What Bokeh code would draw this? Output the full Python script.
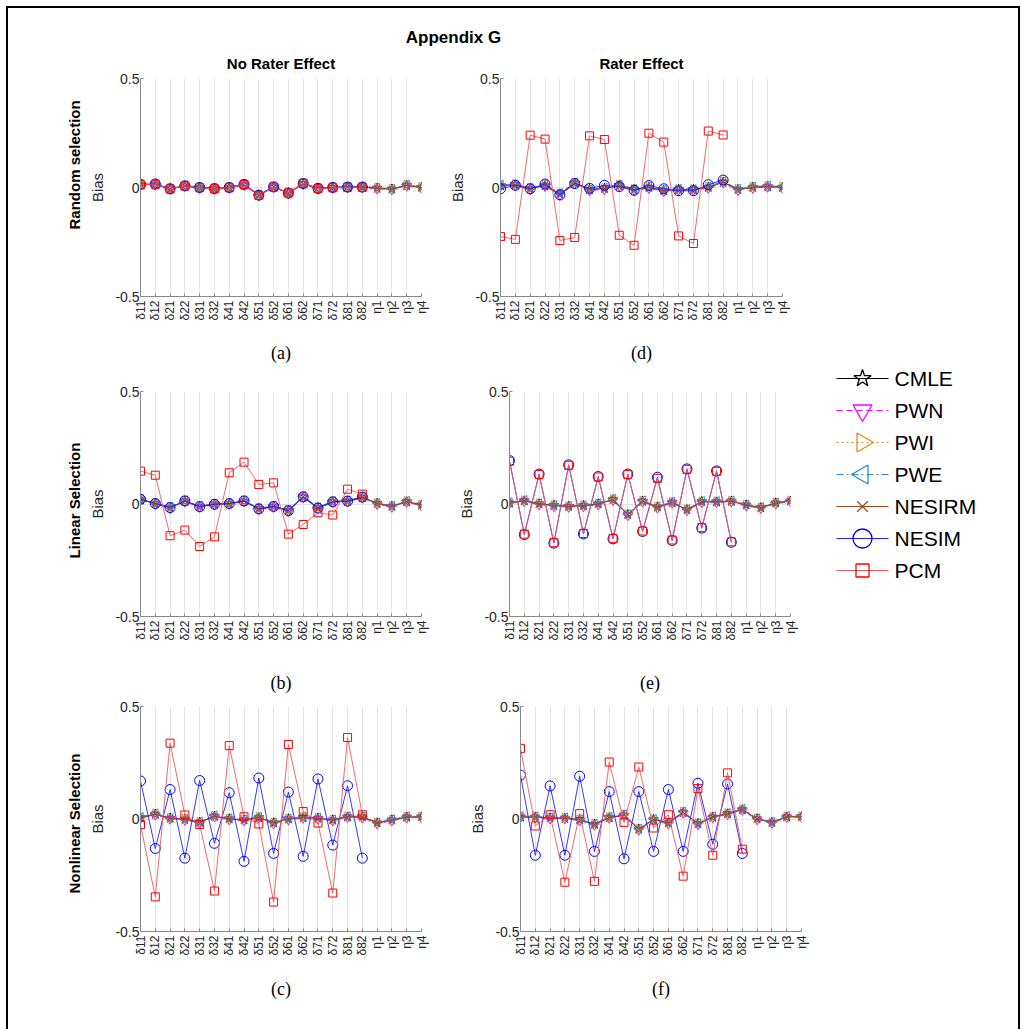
import math
import numpy as np
from bokeh.plotting import figure
from bokeh.layouts import column, row
from bokeh.models import Range1d, FixedTicker, Title, Label, ColumnDataSource
from bokeh.core.properties import value
from bokeh.embed import file_html
from bokeh.resources import INLINE

nan = float("nan")

categories = ["δ11", "δ12", "δ21", "δ22", "δ31", "δ32", "δ41", "δ42", "δ51", "δ52",
              "δ61", "δ62", "δ71", "δ72", "δ81", "δ82", "η1", "η2", "η3", "η4"]
series_names = ["CMLE", "PWN", "PWI", "PWE", "NESIRM", "NESIM", "PCM"]
y_ticks = [-0.5, 0, 0.5]

# ---- (a) Random selection, no rater effect
a_cmle = [0.012, 0.014, -0.005, 0.006, 0.001, -0.004, -0.001, 0.012, -0.034, 0.002, -0.024, 0.017, -0.003, 0.001, 0.001, 0.003, -0.003, -0.007, 0.009, 0.001]
a_pwn = [0.010, 0.012, -0.008, 0.005, -0.003, -0.008, -0.003, 0.010, -0.038, 0.000, -0.028, 0.015, -0.007, -0.003, -0.001, -0.001, -0.006, -0.010, 0.008, -0.002]
a_pwi = [0.015, 0.017, -0.004, 0.009, 0.002, -0.003, 0.002, 0.016, -0.032, 0.005, -0.022, 0.021, -0.002, 0.002, 0.004, 0.004, -0.002, -0.005, 0.012, 0.003]
a_pwe = [0.016, 0.016, -0.005, 0.010, 0.001, -0.004, 0.001, 0.015, -0.033, 0.004, -0.023, 0.020, -0.003, 0.001, 0.003, 0.005, -0.001, -0.006, 0.013, 0.002]
a_nesirm = [0.013, 0.015, -0.006, 0.007, 0.000, -0.005, 0.000, 0.013, -0.035, 0.003, -0.025, 0.018, -0.004, 0.000, 0.002, 0.002, -0.004, -0.008, 0.010, 0.000]
a_nesim = [0.014, 0.016, -0.006, 0.008, 0.000, -0.005, 0.000, 0.014, -0.035, 0.003, -0.026, 0.018, -0.004, 0.000, 0.002, 0.002, nan, nan, nan, nan]
a_pcm = [0.013, 0.015, -0.007, 0.007, -0.001, -0.006, -0.001, 0.013, -0.036, 0.002, -0.025, 0.019, -0.005, -0.001, 0.001, 0.001, nan, nan, nan, nan]

# ---- (b) Linear selection, no rater effect
b_cmle = [0.019, 0.003, -0.015, 0.012, -0.010, 0.000, 0.001, 0.012, -0.020, -0.010, -0.028, 0.031, -0.016, 0.009, 0.012, 0.029, 0.003, -0.010, 0.010, -0.004]
b_pwn = [0.017, -0.001, -0.019, 0.010, -0.014, -0.004, -0.001, 0.010, -0.024, -0.014, -0.032, 0.029, -0.020, 0.007, 0.010, 0.027, -0.001, -0.014, 0.008, -0.008]
b_pwi = [0.022, 0.004, -0.013, 0.015, -0.009, 0.002, 0.004, 0.015, -0.018, -0.009, -0.026, 0.034, -0.014, 0.012, 0.015, 0.032, 0.004, -0.009, 0.013, -0.003]
b_pwe = [0.023, 0.003, -0.014, 0.016, -0.008, 0.001, 0.003, 0.016, -0.019, -0.008, -0.027, 0.035, -0.015, 0.013, 0.016, 0.033, 0.005, -0.008, 0.014, -0.002]
b_nesirm = [0.020, 0.002, -0.016, 0.013, -0.011, -0.001, 0.002, 0.013, -0.021, -0.011, -0.029, 0.032, -0.017, 0.010, 0.013, 0.030, 0.002, -0.011, 0.011, -0.005]
b_nesim = [0.021, 0.002, -0.016, 0.014, -0.012, -0.001, 0.002, 0.014, -0.022, -0.011, -0.030, 0.032, -0.018, 0.010, 0.013, 0.031, nan, nan, nan, nan]
b_pcm = [0.146, 0.128, -0.141, -0.116, -0.189, -0.146, 0.139, 0.186, 0.087, 0.094, -0.134, -0.091, -0.039, -0.049, 0.066, 0.044, nan, nan, nan, nan]

# ---- (c) Nonlinear selection, no rater effect
c_cmle = [0.005, 0.021, 0.004, -0.001, -0.014, 0.012, 0.001, -0.004, 0.006, -0.017, 0.001, 0.006, 0.004, -0.004, 0.009, 0.010, -0.017, -0.004, 0.008, 0.010]
c_pwn = [0.003, 0.019, 0.000, -0.005, -0.018, 0.010, -0.003, -0.008, 0.004, -0.021, -0.003, 0.004, 0.000, -0.008, 0.007, 0.006, -0.021, -0.008, 0.006, 0.006]
c_pwi = [0.008, 0.024, 0.005, 0.001, -0.013, 0.015, 0.002, -0.003, 0.009, -0.016, 0.002, 0.009, 0.005, -0.003, 0.012, 0.011, -0.016, -0.003, 0.011, 0.011]
c_pwe = [0.009, 0.025, 0.004, 0.000, -0.012, 0.016, 0.003, -0.002, 0.010, -0.015, 0.003, 0.010, 0.006, -0.002, 0.013, 0.012, -0.015, -0.002, 0.012, 0.012]
c_nesirm = [0.006, 0.022, 0.003, -0.002, -0.015, 0.013, 0.000, -0.005, 0.007, -0.018, 0.000, 0.007, 0.003, -0.005, 0.010, 0.009, -0.018, -0.005, 0.009, 0.009]
c_nesim = [0.169, -0.131, 0.131, -0.174, 0.171, -0.108, 0.117, -0.188, 0.182, -0.153, 0.120, -0.166, 0.178, -0.116, 0.148, -0.174, nan, nan, nan, nan]
c_pcm = [-0.025, -0.346, 0.337, 0.018, -0.024, -0.320, 0.326, 0.010, -0.022, -0.369, 0.331, 0.033, -0.018, -0.329, 0.362, 0.019, nan, nan, nan, nan]

# ---- (d) Random selection, rater effect
d_cmle = [0.009, 0.013, -0.004, 0.009, -0.029, 0.019, -0.009, -0.004, 0.009, -0.009, 0.001, -0.014, -0.009, -0.009, 0.001, 0.024, -0.009, 0.001, 0.004, 0.001]
d_pwn = [0.006, 0.009, -0.009, 0.006, -0.034, 0.017, -0.014, -0.009, 0.007, -0.013, -0.004, -0.019, -0.013, -0.013, -0.003, 0.022, -0.013, -0.003, 0.002, -0.003]
d_pwi = [0.013, 0.015, -0.002, 0.013, -0.027, 0.023, -0.007, -0.002, 0.013, -0.007, 0.003, -0.012, -0.007, -0.007, 0.003, 0.028, -0.007, 0.003, 0.008, 0.003]
d_pwe = [0.014, 0.014, -0.003, 0.014, -0.026, 0.024, -0.008, -0.001, 0.014, -0.006, 0.004, -0.011, -0.006, -0.008, 0.004, 0.029, -0.006, 0.004, 0.009, 0.004]
d_nesirm = [0.010, 0.012, -0.005, 0.010, -0.030, 0.020, -0.010, -0.005, 0.010, -0.010, 0.000, -0.015, -0.010, -0.010, 0.000, 0.025, -0.010, 0.000, 0.005, 0.000]
d_nesim = [-0.006, 0.010, -0.006, 0.016, -0.034, 0.018, -0.004, 0.010, 0.004, -0.013, 0.009, -0.006, -0.015, -0.015, 0.013, 0.034, nan, nan, nan, nan]
d_pcm = [-0.225, -0.238, 0.240, 0.222, -0.243, -0.229, 0.237, 0.220, -0.219, -0.265, 0.249, 0.208, -0.222, -0.257, 0.259, 0.241, nan, nan, nan, nan]

# ---- (e) Linear selection, rater effect
e_cmle = [0.004, 0.014, 0.001, -0.006, -0.010, -0.007, 0.001, 0.019, -0.047, 0.012, -0.013, 0.006, -0.025, 0.011, 0.009, 0.012, -0.004, -0.016, 0.005, 0.013]
e_pwn = [0.002, 0.012, -0.003, -0.010, -0.014, -0.011, -0.003, 0.017, -0.051, 0.010, -0.017, 0.004, -0.029, 0.007, 0.007, 0.010, -0.008, -0.020, 0.001, 0.011]
e_pwi = [0.007, 0.017, 0.002, -0.005, -0.009, -0.006, 0.002, 0.022, -0.046, 0.015, -0.012, 0.009, -0.024, 0.012, 0.012, 0.015, -0.003, -0.015, 0.006, 0.016]
e_pwe = [0.008, 0.018, 0.003, -0.004, -0.008, -0.005, 0.003, 0.023, -0.045, 0.016, -0.011, 0.010, -0.023, 0.013, 0.013, 0.016, -0.002, -0.014, 0.007, 0.017]
e_nesirm = [0.005, 0.015, 0.000, -0.007, -0.011, -0.008, 0.000, 0.020, -0.048, 0.013, -0.014, 0.007, -0.026, 0.010, 0.010, 0.013, -0.005, -0.017, 0.004, 0.014]
e_nesim = [0.193, -0.136, 0.133, -0.174, 0.174, -0.133, 0.122, -0.155, 0.133, -0.122, 0.119, -0.162, 0.156, -0.107, 0.147, -0.170, nan, nan, nan, nan]
e_pcm = [0.190, -0.134, 0.131, -0.172, 0.172, -0.131, 0.120, -0.153, 0.131, -0.120, 0.114, -0.160, 0.154, -0.105, 0.145, -0.168, nan, nan, nan, nan]

# ---- (f) Nonlinear selection, rater effect
f_cmle = [0.009, 0.008, 0.005, 0.003, -0.003, -0.023, 0.006, 0.017, -0.045, -0.002, -0.017, 0.029, -0.020, 0.008, 0.023, 0.041, 0.001, -0.015, 0.009, 0.011]
f_pwn = [0.007, 0.006, 0.001, 0.001, -0.007, -0.027, 0.004, 0.015, -0.049, -0.006, -0.021, 0.027, -0.024, 0.006, 0.021, 0.039, -0.003, -0.019, 0.007, 0.007]
f_pwi = [0.012, 0.011, 0.006, 0.006, -0.002, -0.022, 0.009, 0.020, -0.044, -0.001, -0.016, 0.032, -0.019, 0.011, 0.026, 0.044, 0.002, -0.014, 0.012, 0.012]
f_pwe = [0.013, 0.012, 0.007, 0.007, -0.001, -0.021, 0.010, 0.021, -0.043, 0.000, -0.015, 0.033, -0.018, 0.012, 0.027, 0.045, 0.003, -0.013, 0.013, 0.013]
f_nesirm = [0.010, 0.009, 0.004, 0.004, -0.004, -0.024, 0.007, 0.018, -0.046, -0.003, -0.018, 0.030, -0.021, 0.009, 0.024, 0.042, 0.000, -0.016, 0.010, 0.010]
f_nesim = [0.195, -0.161, 0.147, -0.161, 0.190, -0.144, 0.122, -0.177, 0.122, -0.144, 0.131, -0.144, 0.159, -0.112, 0.156, -0.153, nan, nan, nan, nan]
f_pcm = [0.314, -0.031, 0.019, -0.281, 0.024, -0.277, 0.253, -0.015, 0.231, -0.040, 0.019, -0.254, 0.135, -0.161, 0.205, -0.134, nan, nan, nan, nan]

# ---- styles
line_colors = ["#000000", "#ff00ff", "#e08a1e", "#2d8ccb", "#a0481e", "#2020ff", "#f05a5a"]
mark_colors = ["#000000", "#ff00ff", "#e08a1e", "#2d8ccb", "#a0481e", "#0000ff", "#ff0000"]
dashes = ["solid", "6 4", "2 3", "7 3 2 3", "solid", "solid", "solid"]
markers = ["star", "inverted_triangle", "triangle", "triangle", "x", "circle", "square"]
angles = [0, 0, -math.pi / 2, math.pi / 2, 0, 0, 0]
sizes_panel = [10, 9, 9, 9, 8, 10, 8]
sizes_legend = [18, 19, 19, 19, 15, 19, 13]

SANS = "Liberation Sans"
SERIF = "Liberation Serif"
x_pos = list(range(len(categories)))


def make_panel(vals, width, height, bl, br, bt, bb, title=None, row_label=None,
               row_offset=0, caption="", cap_standoff=10):
    kw = dict(width=width, height=height, x_range=Range1d(0, len(categories) - 1),
              y_range=Range1d(-0.5, 0.5), output_backend="svg", toolbar_location=None,
              min_border_left=bl, min_border_right=br, min_border_top=bt,
              min_border_bottom=bb)
    if title:
        kw["title"] = title
    p = figure(**kw)
    p.outline_line_color = None
    if title:
        p.title.align = "center"
        p.title.text_font = SANS
        p.title.text_font_size = "15px"
        p.title.text_font_style = "bold"
        p.title.text_color = "#000000"
        p.title.standoff = 13
    # axes
    p.xaxis.ticker = FixedTicker(ticks=x_pos)
    p.xaxis.major_label_overrides = {i: c for i, c in zip(x_pos, categories)}
    p.xaxis.major_label_orientation = math.pi / 2
    p.xaxis.major_label_text_font_size = "12px"
    p.yaxis.ticker = FixedTicker(ticks=y_ticks)
    p.yaxis.major_label_overrides = {-0.5: "-0.5", 0: "0", 0.5: "0.5"}
    p.yaxis.major_label_text_font_size = "14px"
    for ax in (p.xaxis, p.yaxis):
        ax.major_label_text_font = SANS
        ax.major_label_text_color = "#262626"
        ax.axis_line_color = "#8a8a8a"
        ax.major_tick_line_color = "#8a8a8a"
        ax.major_tick_in = 3
        ax.major_tick_out = 0
        ax.minor_tick_line_color = None
    p.xaxis.major_label_standoff = 4
    p.yaxis.major_label_standoff = 1
    p.yaxis.axis_label = "Bias"
    p.yaxis.axis_label_text_font = SANS
    p.yaxis.axis_label_text_font_size = "15px"
    p.yaxis.axis_label_text_font_style = "normal"
    p.yaxis.axis_label_text_color = "#262626"
    p.yaxis.axis_label_standoff = 6
    p.xaxis.axis_label = caption
    p.xaxis.axis_label_text_font = SERIF
    p.xaxis.axis_label_text_font_size = "18px"
    p.xaxis.axis_label_text_font_style = "normal"
    p.xaxis.axis_label_text_color = "#000000"
    p.xaxis.axis_label_standoff = cap_standoff
    p.xgrid.ticker = FixedTicker(ticks=x_pos)
    p.ygrid.ticker = FixedTicker(ticks=y_ticks)
    p.grid.grid_line_color = "#e3e3e3"
    p.grid.grid_line_width = 1
    if row_label:
        p.add_layout(Title(text=row_label, align="left", text_font=SANS,
                           text_font_size="15px", text_font_style="bold",
                           text_color="#000000", standoff=7, offset=row_offset), "left")
    for k, v in enumerate(vals):
        src = ColumnDataSource(dict(x=x_pos, y=v))
        p.line("x", "y", source=src, line_color=line_colors[k], line_width=1,
               line_dash=dashes[k], line_alpha=0.9)
        if markers[k] == "square":
            p.rect("x", "y", source=src, width=sizes_panel[k], height=sizes_panel[k],
                   width_units="screen", height_units="screen", fill_color=None,
                   line_color=mark_colors[k], line_width=1)
        else:
            p.scatter("x", "y", source=src, marker=markers[k], size=sizes_panel[k],
                      angle=angles[k], fill_color=None, line_color=mark_colors[k],
                      line_width=1)
    return p


# header (root origin = page (8, 8))
hdr = figure(width=890, height=38, x_range=Range1d(8, 898), y_range=Range1d(46, 8),
             output_backend="svg", toolbar_location=None, x_axis_type=None,
             y_axis_type=None, min_border_left=0, min_border_right=0,
             min_border_top=0, min_border_bottom=0)
hdr.outline_line_color = None
hdr.add_layout(Label(x=453, y=37, text="Appendix G", text_align="center",
                     text_baseline="middle", text_font=SANS, text_font_size="17px",
                     text_font_style="bold", text_color="#000000"))

# row 1 (page y 46..365)
p_a = make_panel([a_cmle, a_pwn, a_pwi, a_pwe, a_nesirm, a_nesim, a_pcm],
                 422, 319, 132, 9, 31, 64, title="No Rater Effect",
                 row_label="Random selection", row_offset=67, caption="(a)",
                 cap_standoff=19)
p_d = make_panel([d_cmle, d_pwn, d_pwi, d_pwe, d_nesirm, d_nesim, d_pcm],
                 385, 319, 70, 33, 31, 64, title="Rater Effect", caption="(d)",
                 cap_standoff=19)
# row 2 (page y 365..695)
p_b = make_panel([b_cmle, b_pwn, b_pwi, b_pwe, b_nesirm, b_nesim, b_pcm],
                 422, 330, 132, 9, 26, 79, row_label="Linear Selection",
                 row_offset=58, caption="(b)", cap_standoff=29)
p_e = make_panel([e_cmle, e_pwn, e_pwi, e_pwe, e_nesirm, e_nesim, e_pcm],
                 385, 330, 79, 25, 26, 79, caption="(e)", cap_standoff=29)
# row 3 (page y 695..1029)
p_c = make_panel([c_cmle, c_pwn, c_pwi, c_pwe, c_nesirm, c_nesim, c_pcm],
                 422, 334, 132, 9, 11, 98, row_label="Nonlinear Selection",
                 row_offset=38, caption="(c)", cap_standoff=20)
p_f = make_panel([f_cmle, f_pwn, f_pwi, f_pwe, f_nesirm, f_nesim, f_pcm],
                 385, 334, 90, 14, 11, 98, caption="(f)", cap_standoff=20)

# legend panel (page coordinates x 815..1018, y 365..695)
leg_row_y = [378.0, 410.0, 442.0, 474.0, 506.0, 538.0, 570.0]
leg_x0, leg_x1, leg_xt = 836, 888, 894
leg = figure(width=203, height=330, x_range=Range1d(815, 1018), y_range=Range1d(695, 365),
             output_backend="svg", toolbar_location=None, x_axis_type=None,
             y_axis_type=None, min_border_left=0, min_border_right=0,
             min_border_top=0, min_border_bottom=0)
leg.outline_line_color = None
leg.frame_align = False
for k, name in enumerate(series_names):
    yk = leg_row_y[k]
    leg.line([leg_x0, leg_x1], [yk, yk], line_color=line_colors[k], line_width=1,
             line_dash=dashes[k])
    leg.scatter([(leg_x0 + leg_x1) / 2], [yk], marker=markers[k], size=sizes_legend[k],
                angle=angles[k], fill_color=None, line_color=mark_colors[k],
                line_width=1.3)
    leg.text([leg_xt], [yk], text=[name], text_baseline="middle", text_align="left",
             text_font=value(SANS), text_font_size="21px", text_color="#000000")

layout = column(hdr, row(p_a, p_d), row(p_b, p_e, leg), row(p_c, p_f),
                margin=(8, 0, 0, 8), styles={"outline": "2px solid black"})

open("out.html", "w").write(file_html(layout, INLINE))
